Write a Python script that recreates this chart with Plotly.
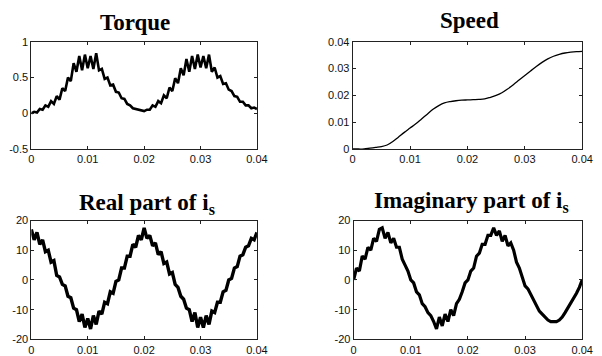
import plotly.graph_objects as go

# ---- data ----
t_fine = [i * 0.0005 for i in range(81)]   # time axis, 0 .. 0.04 s
t_speed = [i * 0.001 for i in range(41)]

torque = [0.00, 0.02, 0.01, 0.06, 0.05, 0.11, 0.09, 0.17, 0.13, 0.24,
          0.19, 0.35, 0.31, 0.50, 0.45, 0.70, 0.58, 0.80, 0.60, 0.82,
          0.63, 0.80, 0.62, 0.84, 0.60, 0.62, 0.48, 0.50, 0.39, 0.40,
          0.30, 0.29, 0.21, 0.20, 0.13, 0.11, 0.07, 0.06, 0.04, 0.04,
          0.03, 0.05, 0.05, 0.11, 0.09, 0.17, 0.14, 0.25, 0.21, 0.36,
          0.31, 0.49, 0.42, 0.63, 0.53, 0.76, 0.58, 0.80, 0.62, 0.82,
          0.64, 0.80, 0.63, 0.82, 0.58, 0.64, 0.50, 0.52, 0.41, 0.42,
          0.33, 0.31, 0.24, 0.23, 0.16, 0.16, 0.11, 0.11, 0.07, 0.08,
          0.06]

speed = [0.0, 0.0, 0.0, 0.0003, 0.0006, 0.0009, 0.0015, 0.0028, 0.0045, 0.0062,
         0.0078, 0.0094, 0.0112, 0.0130, 0.0148, 0.0162, 0.0172, 0.0177, 0.0180, 0.0182,
         0.0183, 0.0184, 0.0185, 0.0187, 0.0193, 0.0200, 0.0210, 0.0224, 0.0240, 0.0257,
         0.0274, 0.0291, 0.0308, 0.0323, 0.0336, 0.0346, 0.0353, 0.0358, 0.0361, 0.0363,
         0.0364]

is_real = [17, 13.5, 16, 12, 13.5, 9.5, 10, 6, 6.5, 1.5,
           1, -1.5, -2, -5.5, -6, -9.5, -10, -14, -11.5, -16,
           -13, -16.5, -12, -15, -10.5, -11.5, -7.5, -8, -4, -4.5,
           -0.5, 0, 4, 4, 8, 8, 12, 11, 15, 13.5,
           17.5, 14, 15, 11.5, 12.5, 8.5, 9.5, 5.5, 6, 2,
           2.5, -1.5, -2.5, -5.5, -6.5, -9.5, -10, -14, -11, -16,
           -12.5, -16, -12, -15, -10.5, -11, -7.5, -7.5, -4, -3.5,
           0, 0.5, 4, 4.5, 8, 8.5, 11, 11.5, 14, 13.5,
           16]

is_imag = [0, 4, 3, 8, 7, 11, 10, 14, 13, 17,
           17.5, 14, 16, 12.5, 14, 11, 11, 7, 5, 3,
           0, -1, -4, -5, -8, -9, -11, -12, -14, -16.5,
           -12.5, -15.5, -11.5, -14, -10, -12, -8, -6.5, -4, -1,
           0, 3, 4, 8, 9, 12, 12, 15, 15, 17.5,
           15, 16.5, 13, 15, 11.5, 12.5, 10, 6, 4, 1,
           -2, -3, -5, -7, -9, -10.5, -11.5, -12.5, -13.5, -14,
           -14, -14, -13.5, -12.5, -11, -9.5, -8, -6, -4.5, -2.5,
           0]

x_ticks = [0, 0.01, 0.02, 0.03, 0.04]
x_ticklabels = ["0", "0.01", "0.02", "0.03", "0.04"]
torque_ticks = [-0.5, 0, 0.5, 1]
torque_ticklabels = ["-0.5", "0", "0.5", "1"]
speed_ticks = [0, 0.01, 0.02, 0.03, 0.04]
speed_ticklabels = ["0", "0.01", "0.02", "0.03", "0.04"]
cur_ticks = [-20, -10, 0, 10, 20]
cur_ticklabels = ["-20", "-10", "0", "10", "20"]

titles = ["Torque", "Speed", "Real part of i<sub>s</sub>", "Imaginary part of i<sub>s</sub>"]

# ---- figure ----
W, H = 602, 356
fig = go.Figure()

def px_x(a, b):
    return [a / W, b / W]

def px_y(top, bottom):
    return [1 - bottom / H, 1 - top / H]

tick_font = dict(family="Liberation Sans Narrow, Arial Narrow, Liberation Sans, Arial", size=11, color="#111")

axes = [
    (px_x(29, 260), px_y(37, 148), [-0.5, 1], torque_ticks, torque_ticklabels),
    (px_x(358, 593), px_y(37, 148), [0, 0.04], speed_ticks, speed_ticklabels),
    (px_x(29, 260), px_y(222, 345), [-20, 20], cur_ticks, cur_ticklabels),
    (px_x(359, 593), px_y(222, 345), [-20, 20], cur_ticks, cur_ticklabels),
]

series = [(t_fine, torque, 2.6), (t_speed, speed, 1.3), (t_fine, is_real, 3.4), (t_fine, is_imag, 3.2)]

for k, ((xd, yd, yr, yt, yl), (xs, ys, lw)) in enumerate(zip(axes, series)):
    n = "" if k == 0 else str(k + 1)
    fig.add_trace(go.Scatter(
        x=xs, y=ys, mode="lines",
        line=dict(color="black", width=lw, shape="spline" if k == 1 else "linear"),
        xaxis="x" + n, yaxis="y" + n, showlegend=False, hoverinfo="skip"))
    common = dict(showline=True, linecolor="#222", linewidth=1, mirror="ticks",
                  ticks="inside", ticklen=3, tickcolor="#222", showgrid=False,
                  zeroline=False, tickfont=tick_font, ticklabelstandoff=0)
    fig.update_layout(**{
        "xaxis" + n: dict(domain=xd, range=[0, 0.04], tickvals=x_ticks,
                          ticktext=x_ticklabels, anchor="y" + n, **common),
        "yaxis" + n: dict(domain=yd, range=yr, tickvals=yt, ticktext=yl,
                          anchor="x" + n, **common),
    })

title_pos = [(135, 17), (478, 15), (147, 205), (480, 203)]
for txt, (cx, cy) in zip(titles, title_pos):
    fig.add_annotation(text="<b>" + txt + "</b>", x=cx / W, y=1 - cy / H,
                       xref="paper", yref="paper", showarrow=False,
                       xanchor="center", yanchor="middle",
                       font=dict(family="Liberation Serif, Times New Roman, serif",
                                 size=23, color="black"))

fig.update_layout(width=W, height=H, margin=dict(l=0, r=0, t=0, b=0),
                  paper_bgcolor="white", plot_bgcolor="white")

fig.write_html("out.html", config={"displayModeBar": False},
               post_script="document.body.style.margin='0';document.body.style.overflow='hidden';")
